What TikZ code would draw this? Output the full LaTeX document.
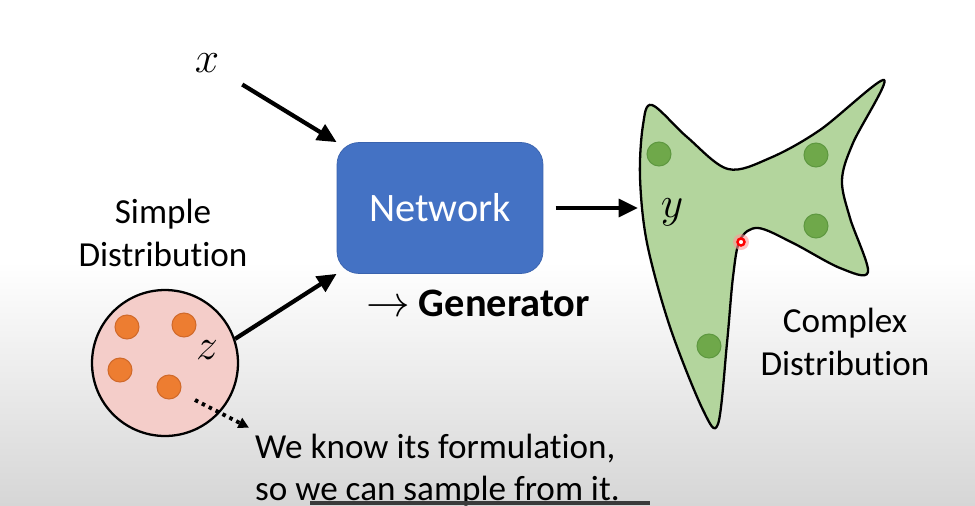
\documentclass[tikz,border=0pt]{standalone}
\usepackage{fontspec}
\setmainfont{Carlito}[Ligatures=NoCommon]
\usepackage{tikz}
\usetikzlibrary{positioning, arrows.meta}

\definecolor{netblue}{HTML}{4472C4}
\definecolor{netedge}{HTML}{3A63AE}
\definecolor{pinkfill}{HTML}{F4CDC9}
\definecolor{dotorange}{HTML}{ED7D31}
\definecolor{dotorangeedge}{HTML}{D0692A}
\definecolor{blobgreen}{HTML}{B3D59D}
\definecolor{dotgreen}{HTML}{6FA84A}
\definecolor{dotgreenedge}{HTML}{5E9840}
\definecolor{bggray}{HTML}{D6D6D6}
\definecolor{darkbar}{HTML}{3A3A3A}

\tikzset{
  arr/.style={line width=2.4pt, -{Triangle[length=11pt,width=10pt]}},
  dotarr/.style={line width=2.2pt, dash pattern=on 2pt off 2.4pt, -{Triangle[length=6pt,width=6pt]}},
  netbox/.style={draw=netedge, fill=netblue, rounded corners=0.44cm, minimum width=4.12cm,
    minimum height=2.62cm, text=white, font=\fontsize{23}{27}\selectfont},
  lbl/.style={font=\fontsize{20}{24}\selectfont, align=center},
  mathlbl/.style={font=\fontsize{23}{27}\selectfont, inner sep=1pt},
  odot/.style={circle, fill=dotorange, draw=dotorangeedge, line width=0.6pt, minimum size=0.48cm, inner sep=0pt},
  gdot/.style={circle, fill=dotgreen, draw=dotgreenedge, line width=0.6pt, minimum size=0.48cm, inner sep=0pt},
}

\begin{document}
\begin{tikzpicture}[x=0.02cm, y=-0.02cm]
% Background
\useasboundingbox (0,0) rectangle (975,505);
\fill[white] (0,0) rectangle (975,262);
\shade[top color=white, bottom color=bggray] (0,262) rectangle (975,505);

% Complex distribution (blob)
\draw[fill=blobgreen, line width=1.3pt] plot[smooth cycle, tension=0.55] coordinates {
  (652,105) (687,137) (728,169) (770,158) (820,130) (884,80) (853,143) (842,180)
  (850,218) (868,272) (840,268) (793,243) (758,228) (740,240) (733,277) (727,343)
  (718,424) (703,410) (670,327) (647,243) (640,177) (643,125)};
\node[gdot] (g1) at (659,154) {};
\node[gdot] (g2) at (816,155) {};
\node[gdot] (g3) at (816,226) {};
\node[gdot] (g4) at (709,346) {};
\fill[red!40, opacity=0.6] (741,242) circle (0.16cm);
\draw[red, line width=1.4pt, fill=white] (741,242) circle (0.07cm);

% Define the nodes
\node[mathlbl] (xlab) at (207,63) {$x$};
\node[netbox] (net) at (440,208) {Network};
\node[font=\fontsize{23}{27}\selectfont] (gen) at (478,303) {$\rightarrow$ \textbf{Generator}};
\node[lbl] (simple) at (163,233) {Simple\\Distribution};
\node[circle, draw, line width=1.3pt, fill=pinkfill, minimum size=2.92cm] (dist) at (165,363) {};
\node[odot] (o1) at (127,327) {};
\node[odot] (o2) at (184,325) {};
\node[odot] (o3) at (120,370) {};
\node[odot] (o4) at (169,387) {};
\node[mathlbl] (zlab) at (207,350) {$z$};
\node[mathlbl] (ylab) at (672,212) {$y$};
\node[lbl] (complex) at (845,342) {Complex\\Distribution};
\node[lbl, align=left, anchor=west] (note) at (249,470) {We know its formulation,\\so we can sample from it.};
\coordinate (yin) at (638,208);
\coordinate (sampstart) at (195,400);

% Draw the maps
\draw[arr, shorten <=14pt] (xlab) -- (net.north west);
\draw[arr] (dist.19) -- (net.south west);
\draw[arr, shorten <=7pt] (net.east) -- (yin);
\draw[dotarr] (sampstart) -- (note.north west);

% Bottom bar
\fill[darkbar] (310,501) rectangle (650,505);
\end{tikzpicture}
\end{document}
